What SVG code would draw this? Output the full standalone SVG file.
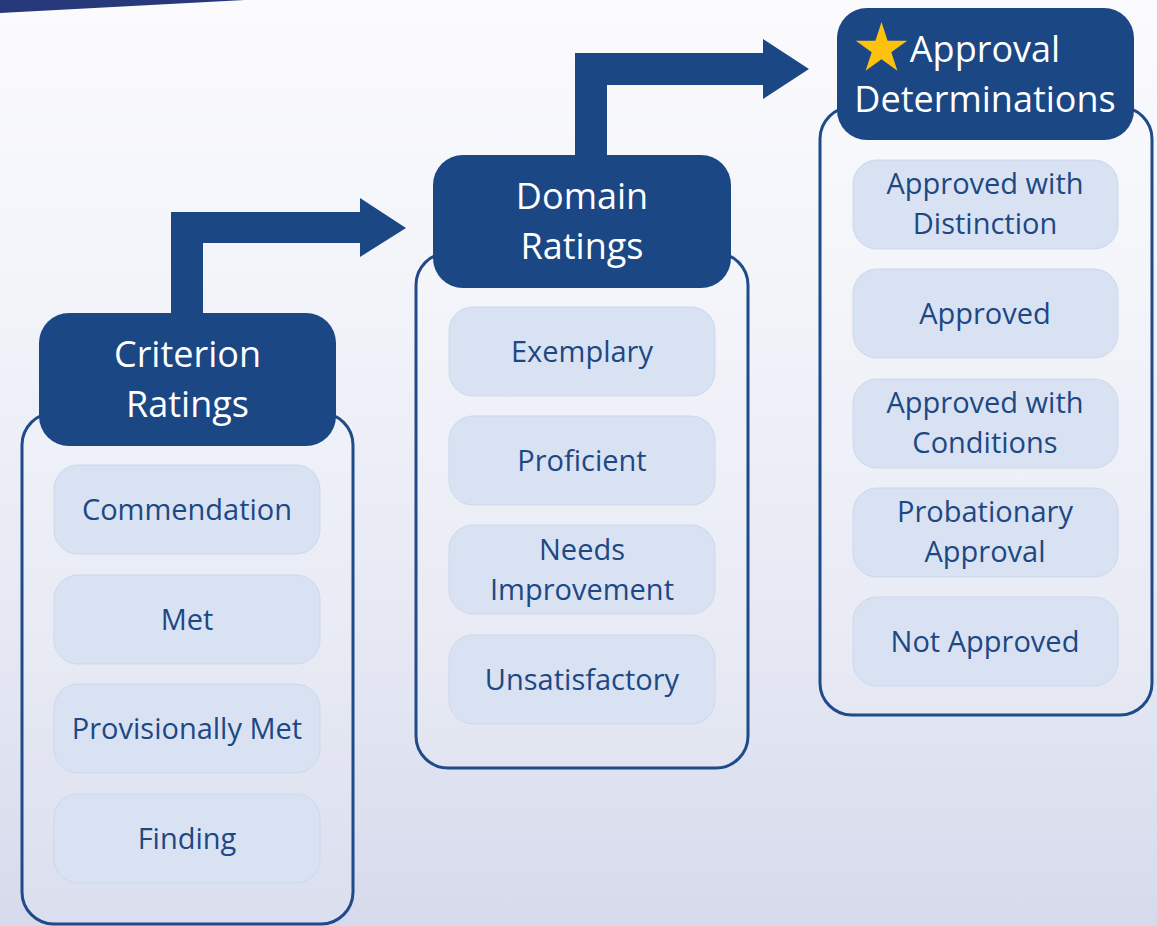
<svg xmlns="http://www.w3.org/2000/svg" width="1157" height="926" viewBox="0 0 1157 926">
  <defs>
    <linearGradient id="bg" x1="0" y1="0" x2="0" y2="1">
      <stop offset="0" stop-color="#fbfbfe"/>
      <stop offset="0.35" stop-color="#f1f3f9"/>
      <stop offset="0.7" stop-color="#e5e8f3"/>
      <stop offset="1" stop-color="#d6daec"/>
    </linearGradient>
    <style>
      .frame { fill: #ffffff; fill-opacity: 0.12; stroke: #1f4b8a; stroke-width: 3; }
      .head { fill: #1c4785; }
      .head-text { font-family: "Open Sans", "Liberation Sans", sans-serif; font-size: 36px; fill: #ffffff; text-anchor: middle; }
      .item { fill: #d9e2f3; stroke: #cdd8ec; stroke-width: 1; }
      .item-text { font-family: "Open Sans", "Liberation Sans", sans-serif; font-size: 29px; fill: #1d4884; text-anchor: middle; }
      .arrow { fill: #1c4785; }
    </style>
  </defs>

  <!-- backdrop -->
  <rect x="0" y="0" width="1157" height="926" fill="url(#bg)"/>
  <polygon points="0,0 245,0 0,13" fill="#27387b"/>

  <!-- connectors -->
  <g id="connectors">
    <polygon class="arrow" points="171,320 171,212 360,212 360,198 406,228 360,257 360,243 203,243 203,320"/>
    <polygon class="arrow" points="575,160 575,53 763,53 763,39 809,69 763,99 763,85 607,85 607,160"/>
  </g>

  <!-- Criterion Ratings -->
  <g id="criterion">
    <rect class="frame" x="22" y="413" width="331" height="511" rx="32"/>
    <rect class="head" x="39" y="313" width="297" height="133" rx="30"/>
    <text class="head-text" x="187.5" y="367">Criterion</text>
    <text class="head-text" x="187.5" y="417">Ratings</text>
    <rect class="item" x="54" y="465" width="266" height="89" rx="24"/>
    <text class="item-text" x="187" y="520">Commendation</text>
    <rect class="item" x="54" y="575" width="266" height="89" rx="24"/>
    <text class="item-text" x="187" y="630">Met</text>
    <rect class="item" x="54" y="684" width="266" height="89" rx="24"/>
    <text class="item-text" x="187" y="739">Provisionally Met</text>
    <rect class="item" x="54" y="794" width="266" height="89" rx="24"/>
    <text class="item-text" x="187" y="849">Finding</text>
  </g>

  <!-- Domain Ratings -->
  <g id="domain">
    <rect class="frame" x="416" y="253" width="332" height="515" rx="32"/>
    <rect class="head" x="433" y="155" width="298" height="133" rx="30"/>
    <text class="head-text" x="582" y="209">Domain</text>
    <text class="head-text" x="582" y="259">Ratings</text>
    <rect class="item" x="449" y="307" width="266" height="89" rx="24"/>
    <text class="item-text" x="582" y="362">Exemplary</text>
    <rect class="item" x="449" y="416" width="266" height="89" rx="24"/>
    <text class="item-text" x="582" y="471">Proficient</text>
    <rect class="item" x="449" y="525" width="266" height="89" rx="24"/>
    <text class="item-text" x="582" y="560">Needs</text>
    <text class="item-text" x="582" y="600">Improvement</text>
    <rect class="item" x="449" y="635" width="266" height="89" rx="24"/>
    <text class="item-text" x="582" y="690">Unsatisfactory</text>
  </g>

  <!-- Approval Determinations -->
  <g id="approval">
    <rect class="frame" x="820" y="107" width="332" height="608" rx="32"/>
    <rect class="head" x="837" y="8" width="297" height="132" rx="30"/>
    <polygon fill="#fdc10e" points="881.5,22 887.6,40.7 907.2,40.7 891.3,52.2 897.4,70.8 881.5,59.3 865.6,70.8 871.7,52.2 855.8,40.7 875.4,40.7"/>
    <text class="head-text" x="985" y="62">Approval</text>
    <text class="head-text" x="985" y="112">Determinations</text>
    <rect class="item" x="853" y="160" width="265" height="89" rx="24"/>
    <text class="item-text" x="985" y="194">Approved with</text>
    <text class="item-text" x="985" y="234">Distinction</text>
    <rect class="item" x="853" y="269" width="265" height="89" rx="24"/>
    <text class="item-text" x="985" y="324">Approved</text>
    <rect class="item" x="853" y="379" width="265" height="89" rx="24"/>
    <text class="item-text" x="985" y="413">Approved with</text>
    <text class="item-text" x="985" y="453">Conditions</text>
    <rect class="item" x="853" y="488" width="265" height="89" rx="24"/>
    <text class="item-text" x="985" y="522">Probationary</text>
    <text class="item-text" x="985" y="562">Approval</text>
    <rect class="item" x="853" y="597" width="265" height="89" rx="24"/>
    <text class="item-text" x="985" y="652">Not Approved</text>
  </g>
</svg>
